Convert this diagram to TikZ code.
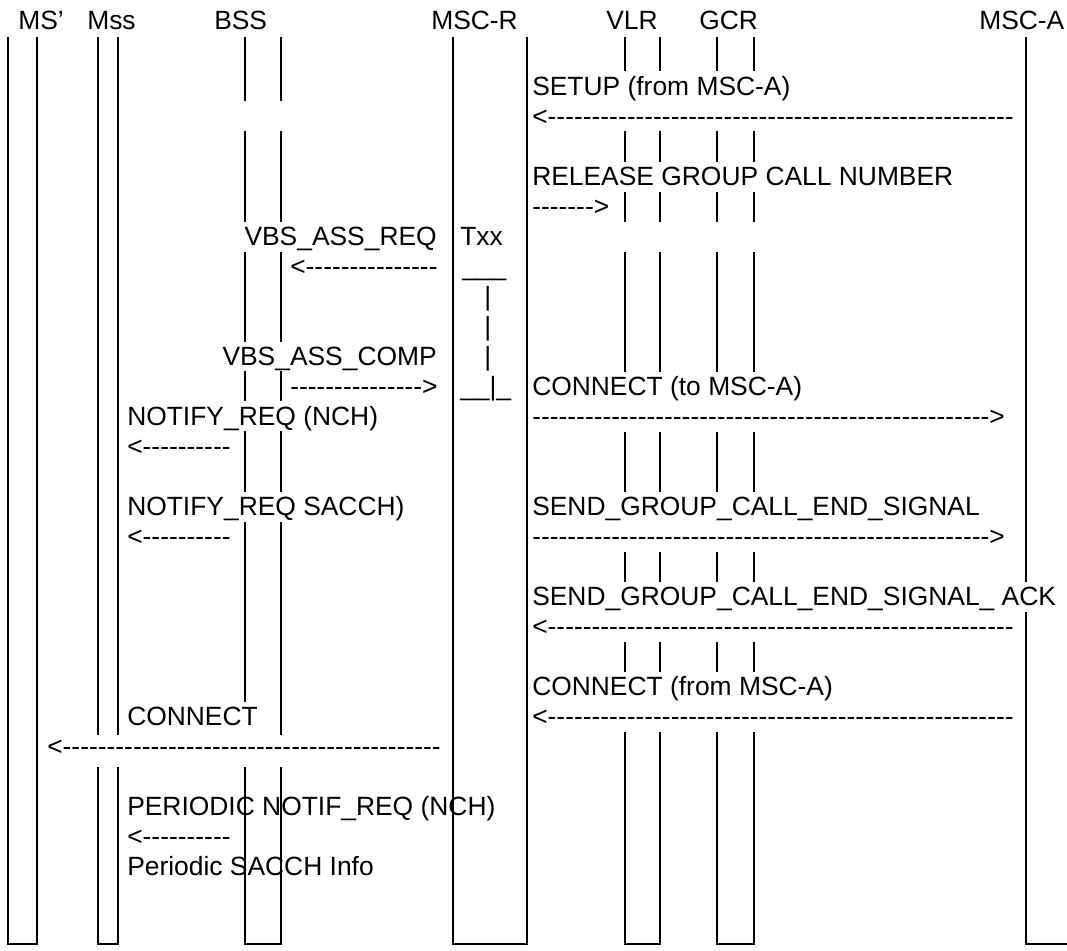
\documentclass[tikz,border=0pt]{standalone}
\usepackage{fontspec}
\newfontfamily\diagfont{Liberation Sans}
% run of n hyphens, typed one by one
\newcommand{\dashrun}[1]{\ifnum#1>0 -\expandafter\dashrun\expandafter{\the\numexpr#1-1\relax}\fi}

\begin{document}
\begin{tikzpicture}[x=0.75pt,y=-0.75pt,
    txt/.style={inner sep=0pt,anchor=base west,
                font=\diagfont\fontsize{19.8}{24}\selectfont},
    txtr/.style={txt,anchor=base east},
    life/.style={line width=1.6pt},
]
\useasboundingbox (0,0) rectangle (1067,950);

% ---- Lifelines -----------------------------------------------------------
% MS'
\draw[life] (8,37) |- (37,944) -- (37,37);
% Mss
\draw[life] (98,37) -- (98,735) (118,37) -- (118,735);
\draw[life] (98,767) |- (118,944) -- (118,767);
% BSS
\foreach \ya/\yb in {37/101,131/222,252/342,371/401,431/492}
  \draw[life] (245,\ya) -- (245,\yb) (281,\ya) -- (281,\yb);
\draw[life] (245,522) -- (245,702) (281,522) -- (281,735);
\draw[life] (245,767) |- (281,944) -- (281,767);
% MSC-R
\draw[life] (453,37) |- (527,944) -- (527,37);
% VLR and GCR
\foreach \xa/\xb in {625/660,717/754}{
  \foreach \ya/\yb in {37/71,131/162,192/222,252/372,432/492,552/582,642/672}
    \draw[life] (\xa,\ya) -- (\xa,\yb) (\xb,\ya) -- (\xb,\yb);
  \draw[life] (\xa,732) |- (\xb,944) -- (\xb,732);
}
% MSC-A
\draw[life] (1026,37) -- (1026,582);
\draw[life] (1026,612) |- (1067,944);

% ---- Entity names --------------------------------------------------------
\node[txt] (hMSp)  at (18,29)  {MS’};
\node[txt] (hMss)  at (87,29)  {Mss};
\node[txt] (hBSS)  at (214,29) {BSS};
\node[txt] (hMSCR) at (431,29) {MSC-R};
\node[txt] (hVLR)  at (606,29) {VLR};
\node[txt] (hGCR)  at (699,29) {GCR};
\node[txt] (hMSCA) at (979,29) {MSC-A};

% ---- MSC-A side ----------------------------------------------------------
\node[txt] (setup)    at (532,95)  {SETUP (from MSC-A)};
\node[txt] (setupA)   at (532,125) {<\dashrun{53}};
\node[txt] (release)  at (532,185) {RELEASE GROUP CALL NUMBER};
\node[txt] (releaseA) at (532,215) {\dashrun{7}>};
\node[txt] (conTo)    at (532,395) {CONNECT (to MSC-A)};
\node[txt] (conToA)   at (532,425) {\dashrun{52}>};
\node[txt] (endSig)   at (532,515) {SEND\_GROUP\_CALL\_END\_SIGNAL};
\node[txt] (endSigA)  at (532,545) {\dashrun{52}>};
\node[txt] (endAck)   at (532,605) {SEND\_GROUP\_CALL\_END\_SIGNAL\_ ACK};
\node[txt] (endAckA)  at (532,635) {<\dashrun{53}};
\node[txt] (conFrom)  at (532,695) {CONNECT (from MSC-A)};
\node[txt] (conFromA) at (532,725) {<\dashrun{53}};

% ---- BSS / MSC-R ---------------------------------------------------------
\node[txtr] (assReq)   at (437,245) {VBS\_ASS\_REQ};
\node[txt]  (assReqA)  at (290,275) {<\dashrun{15}};
\node[txtr] (assComp)  at (437,365) {VBS\_ASS\_COMP};
\node[txt]  (assCompA) at (290,395) {\dashrun{15}>};
% timer Txx
\node[txt] (txx)  at (460,245) {Txx};
\node[txt] (txx1) at (462,275) {\_\_\_};
\node[txt] (txx2) at (484,305) {|};
\node[txt] (txx3) at (484,335) {|};
\node[txt] (txx4) at (484,365) {|};
\node[txt] (txx5) at (460,395) {\_\_|\_};

% ---- Towards the mobiles -------------------------------------------------
\node[txt] (notNch)   at (127,425) {NOTIFY\_REQ (NCH)};
\node[txt] (notNchA)  at (127,455) {<\dashrun{10}};
\node[txt] (notSac)   at (127,515) {NOTIFY\_REQ SACCH)};
\node[txt] (notSacA)  at (127,545) {<\dashrun{10}};
\node[txt] (con)      at (127,725) {CONNECT};
\node[txt] (conA)     at (47,755)  {<\dashrun{43}};
\node[txt] (perNot)   at (127,815) {PERIODIC NOTIF\_REQ (NCH)};
\node[txt] (perNotA)  at (127,845) {<\dashrun{10}};
\node[txt] (perSac)   at (127,875) {Periodic SACCH Info};

\end{tikzpicture}
\end{document}
